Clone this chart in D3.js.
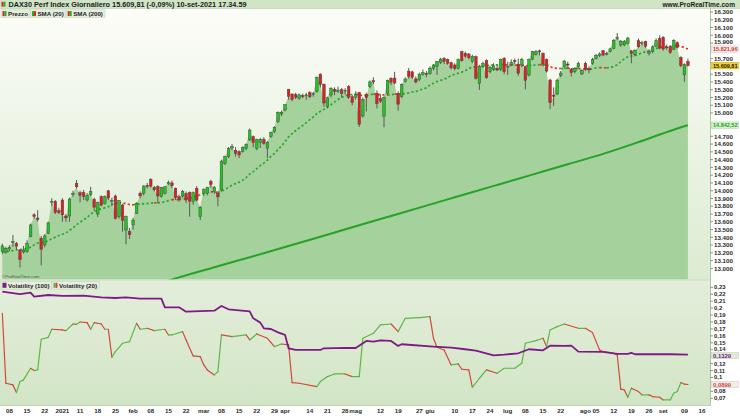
<!DOCTYPE html>
<html><head><meta charset="utf-8">
<script src="https://cdn.jsdelivr.net/npm/d3@7"></script>
<style>
body{margin:0;background:#fff}
svg{display:block}
text{font-family:"Liberation Sans",Arial,sans-serif}
</style>
</head><body>
<svg id="c" width="740" height="416"></svg>
<script>
// ---------- DATA ----------
const monthDays = [
 ["2020-12",[4,7,8,9,10,11,14,15,16,17,18,21,22,23,28,29,30]],
 ["2021-01",[4,5,6,7,8,11,12,13,14,15,18,19,20,21,22,25,26,27,28,29]],
 ["2021-02",[1,2,3,4,5,8,9,10,11,12,15,16,17,18,19,22,23,24,25,26]],
 ["2021-03",[1,2,3,4,5,8,9,10,11,12,15,16,17,18,19,22,23,24,25,26,29,30,31]],
 ["2021-04",[1,6,7,8,9,12,13,14,15,16,19,20,21,22,23,26,27,28,29,30]],
 ["2021-05",[3,4,5,6,7,10,11,12,13,14,17,18,19,20,21,24,25,26,27,28,31]],
 ["2021-06",[1,2,3,4,7,8,9,10,11,14,15,16,17,18,21,22,23,24,25,28,29,30]],
 ["2021-07",[1,2,5,6,7,8,9,12,13,14,15,16,19,20,21,22,23,26,27,28,29,30]],
 ["2021-08",[2,3,4,5,6,9,10,11,12,13,16,17,18,19,20,23,24,25,26,27,30,31]],
 ["2021-09",[1,2,3,6,7,8,9,10,13,14,15,16,17]]
];
const open = [13215,13210,13250,13330,13323,13237,13210,13215,13409,13690,13648,13390,13301,13451,13850,13859,13743,13880,13675,13675,
13950,14095,13975,13975,13880,13950,13889,13700,13923,13837,13999,13870,13932,13666,13816,13494,13473,13559,13709,13966,
13966,14070,14146,14044,14052,13923,13966,14090,14100,14031,13923,13932,13966,13975,13859,14031,13666,13966,13966,14117,
13988,13966,14009,14352,14438,14550,14520,14502,14502,14545,14653,14695,14545,14620,14660,14545,14700,14760,14889,14987,
15039,15305,15245,15235,15190,15225,15225,15262,15240,15274,15500,15369,15082,15232,15305,15280,15300,15280,15340,15210,
15200,15262,14962,15240,15340,15415,15253,15190,14960,15253,15446,15450,15253,15210,15403,15540,15530,15440,15430,15500,
15510,15510,15575,15597,15648,15705,15690,15648,15618,15575,15790,15768,15760,15660,15725,15380,15600,15674,15532,15562,
15575,15562,15704,15590,15620,15674,15630,15618,15596,15489,15691,15755,15800,15768,15690,15425,15230,15245,15480,15596,
15630,15560,15532,15596,15502,15640,15575,15640,15704,15740,15802,15760,15790,15832,15960,15875,15875,15897,15800,15750,
15930,15900,15918,15770,15790,15860,15960,15974,15850,15854,15820,15905,15716,15490,15660];
const high = [13320,13280,13300,13430,13340,13250,13290,13360,13575,13710,13750,13420,13440,13600,13903,13880,13780,13903,13700,13910,
14000,14138,14000,14010,13970,14050,13910,13860,13940,13940,14010,13910,13950,13880,13830,13680,13520,13650,13850,13990,
14070,14100,14160,14060,14070,14050,14060,14130,14130,14040,13950,14010,13990,13990,13990,14060,13800,14030,14050,14140,
14060,13990,14400,14450,14560,14600,14560,14520,14570,14610,14800,14710,14670,14680,14690,14640,14760,14830,15020,15030,
15110,15310,15250,15260,15250,15250,15260,15280,15270,15470,15510,15380,15210,15330,15330,15340,15320,15320,15360,15230,
15280,15270,15200,15260,15420,15460,15290,15240,15215,15430,15460,15530,15280,15380,15460,15580,15545,15470,15520,15560,
15540,15600,15630,15670,15710,15720,15700,15660,15640,15700,15800,15790,15770,15750,15740,15620,15660,15690,15610,15640,
15620,15700,15720,15660,15690,15700,15700,15710,15610,15700,15800,15810,15815,15780,15700,15440,15330,15440,15540,15680,
15660,15580,15590,15660,15560,15660,15600,15710,15760,15780,15810,15790,15840,15950,16030,15940,15940,15980,15810,15820,
15960,15930,15930,15820,15870,15960,16000,15990,15880,15870,15950,15920,15730,15640,15700];
const low = [13180,13190,13220,13280,13240,13010,13190,13200,13400,13640,13600,13040,13270,13440,13800,13700,13700,13600,13600,13600,
13920,14030,13850,13880,13860,13930,13740,13660,13800,13820,13880,13800,13630,13640,13473,13310,13380,13500,13700,13900,
13940,14030,14040,13990,13840,13910,13950,14070,14030,13880,13860,13910,13840,13666,13820,13860,13620,13930,13940,14040,
13960,13800,13990,14330,14420,14520,14440,14420,14490,14520,14640,14560,14520,14550,14590,14420,14680,14740,14870,14960,
15020,15170,15150,15180,15170,15190,15170,15190,15210,15260,15330,15080,15060,15200,15230,15260,15200,15240,15180,15100,
15170,14820,14940,15020,15320,15370,15060,15130,14816,15230,15360,15370,15030,15190,15390,15440,15440,15380,15410,15480,
15460,15490,15550,15490,15630,15630,15620,15560,15550,15560,15660,15710,15690,15640,15430,15296,15580,15440,15510,15540,
15540,15540,15500,15490,15600,15630,15480,15590,15305,15470,15680,15740,15740,15600,15520,15050,15090,15230,15460,15570,
15570,15470,15510,15580,15490,15540,15510,15620,15690,15720,15730,15740,15780,15820,15940,15850,15860,15880,15640,15730,
15840,15870,15840,15740,15770,15850,15820,15800,15810,15760,15810,15830,15590,15400,15600];
const close = [13290,13260,13270,13344,13285,13114,13235,13320,13559,13667,13630,13246,13418,13587,13860,13720,13718,13690,13651,13892,
13968,14050,13937,13925,13940,13989,13788,13848,13815,13922,13906,13873,13643,13871,13620,13666,13433,13622,13835,13933,
14060,14057,14059,14011,13932,14040,14050,14109,14064,13909,13887,13993,13880,13865,13976,13879,13786,14012,14039,14080,
14040,13920,14380,14437,14540,14569,14480,14461,14557,14596,14781,14621,14657,14662,14610,14621,14749,14817,15008,15008,
15107,15212,15176,15203,15234,15215,15234,15209,15255,15460,15368,15129,15196,15320,15280,15296,15249,15292,15200,15136,
15236,14856,15171,15197,15400,15400,15120,15150,15200,15417,15397,15386,15114,15370,15437,15470,15460,15400,15500,15520,
15500,15575,15618,15660,15693,15660,15640,15581,15571,15693,15674,15729,15711,15730,15448,15603,15636,15456,15589,15607,
15554,15691,15531,15603,15650,15661,15511,15692,15421,15688,15790,15790,15788,15630,15540,15133,15216,15423,15514,15669,
15618,15519,15571,15640,15544,15568,15555,15692,15744,15761,15745,15770,15826,15937,15977,15925,15922,15965,15765,15808,
15852,15906,15860,15793,15852,15930,15835,15824,15840,15781,15932,15843,15610,15623,15609.81];
// closes before the first visible bar (needed for the 20-bar average)
const priorCloses = [13096,13163,13216,13052,13076,13138,13133,13201,13086,13137,13126,13292,13289,13286,13335,13291,13382,13313,13252];
const sma200Bars = [45,50,60,70,80,90,100,110,120,130,140,150,160,170,180,190,194];
const sma200Vals = [12815,12885,13015,13143,13275,13408,13542,13675,13808,13941,14074,14207,14340,14474,14625,14785,14842.52];
const vol100Bars = [0,5,8,9,13,17,23,28,32,35,39,45,46,50,52,60,62,64,70,71,73,74,76,78,80,81,83,90,91,97,100,103,105,107,110,112,113,122,127,131,134,139,142,146,149,153,155,159,161,163,170,174,177,178,179,189,194];
const vol100Vals = [0.2237,0.2203,0.2223,0.2165,0.2189,0.2175,0.2179,0.2155,0.2146,0.2155,0.2136,0.2136,0.2011,0.2011,0.1949,0.1963,0.2031,0.1983,0.1954,0.1853,0.1791,0.1709,0.1699,0.1651,0.1613,0.1421,0.1397,0.1397,0.1421,0.1426,0.1425,0.1527,0.1517,0.1536,0.1527,0.1455,0.1479,0.1445,0.1431,0.1407,0.1387,0.1320,0.1330,0.1349,0.1407,0.1392,0.1459,0.1455,0.1459,0.1373,0.1368,0.1339,0.1339,0.1354,0.1335,0.1335,0.1329];
const vol20Bars = [0,1,3,4,5,6,8,9,10,11,13,14,17,18,20,21,22,24,25,26,28,29,30,31,32,34,36,38,39,41,43,46,47,48,51,52,54,56,57,58,60,61,62,65,69,70,72,75,77,79,81,82,84,89,90,92,94,97,99,101,102,105,107,110,112,114,118,121,122,123,125,127,129,130,132,133,135,137,140,142,145,147,148,151,153,154,155,157,159,163,165,167,169,170,173,174,175,176,177,178,180,181,183,184,186,187,189,190,191,192,193,194];
const vol20Vals = [0.1925,0.0917,0.0893,0.0783,0.0941,0.0965,0.1133,0.1099,0.1109,0.1551,0.1579,0.1695,0.1685,0.1675,0.1771,0.1767,0.1800,0.1791,0.1695,0.1791,0.1771,0.1695,0.1695,0.1291,0.1373,0.1493,0.1517,0.1781,0.1695,0.1709,0.1675,0.1695,0.1613,0.1613,0.1661,0.1541,0.1311,0.1301,0.1181,0.1109,0.1037,0.1085,0.1613,0.1589,0.1613,0.1541,0.1627,0.1565,0.1445,0.1483,0.1469,0.0927,0.0917,0.0869,0.0941,0.1013,0.1051,0.1051,0.1013,0.1013,0.1565,0.1637,0.1757,0.1771,0.1661,0.1853,0.1863,0.1877,0.1565,0.1435,0.1397,0.1181,0.1195,0.1119,0.1109,0.0859,0.0989,0.1109,0.1061,0.1133,0.1133,0.1205,0.1493,0.1531,0.1565,0.1445,0.1685,0.1733,0.1771,0.1709,0.1709,0.1647,0.1397,0.1373,0.1349,0.1325,0.0831,0.0821,0.0715,0.0845,0.0797,0.0749,0.0749,0.0725,0.0715,0.0677,0.0677,0.0773,0.0797,0.0927,0.0903,0.0899];
const lastPrice = 15609.81, lastSma20 = 15821.96, lastSma200 = 14842.52, lastVol100 = 0.1329, lastVol20 = 0.0899;
const priceTicks = d3.range(13000,16301,100);
const volTicks = d3.range(7,24).map(v=>v/100);
const xTicks = [["2020-12-08","08"],["2020-12-15","15"],["2020-12-22","22"],["2021-01-04","2021"],["2021-01-11","11"],["2021-01-18","18"],["2021-01-25","25"],["2021-02-01","feb"],["2021-02-08","08"],["2021-02-15","15"],["2021-02-22","22"],["2021-03-01","mar"],["2021-03-08","08"],["2021-03-15","15"],["2021-03-22","22"],["2021-03-29","29"],["2021-04-01","apr"],["2021-04-14","14"],["2021-04-21","21"],["2021-04-28","28"],["2021-05-03","mag"],["2021-05-12","12"],["2021-05-19","19"],["2021-05-27","27"],["2021-06-01","giu"],["2021-06-10","10"],["2021-06-17","17"],["2021-06-24","24"],["2021-07-01","lug"],["2021-07-08","08"],["2021-07-15","15"],["2021-07-22","22"],["2021-08-02","ago"],["2021-08-05","05"],["2021-08-12","12"],["2021-08-19","19"],["2021-08-26","26"],["2021-09-01","set"],["2021-09-09","09"],["2021-09-16","16"]];

// ---------- SETUP ----------
const svg = d3.select("#c");
const PR = 710.5, TOPB = 279.5, LT = 280.5, LB = 405.5;
const dates = monthDays.flatMap(([m,ds])=>ds.map(d=>m+"-"+String(d).padStart(2,"0")));
const x = d3.scaleLinear().domain([0,194]).range([2.33,2.33+194*3.534]);
const yP = d3.scaleLinear().domain([13000,16300]).range([268.4,12]);
const yV = d3.scaleLinear().domain([0.07,0.23]).range([398.3,287.3]);
const fmtP = v => d3.format(",.0f")(v).replace(/,/g,".");
const fmtV = v => String(+v.toFixed(2)).replace(".",",");

const defs = svg.append("defs");
const g1 = defs.append("linearGradient").attr("id","gTop").attr("x1",0).attr("y1",0).attr("x2",0).attr("y2",1);
g1.append("stop").attr("offset",0).attr("stop-color","#fdfdf9");
g1.append("stop").attr("offset",1).attr("stop-color","#dcebd2");
const g2 = defs.append("linearGradient").attr("id","gBot").attr("x1",0).attr("y1",0).attr("x2",0).attr("y2",1);
g2.append("stop").attr("offset",0).attr("stop-color","#e4eedb");
g2.append("stop").attr("offset",1).attr("stop-color","#d2e5c6");
defs.append("clipPath").attr("id","cTop").append("rect").attr("x",0).attr("y",0).attr("width",PR).attr("height",TOPB);
defs.append("clipPath").attr("id","cBot").append("rect").attr("x",0).attr("y",LT).attr("width",PR).attr("height",LB-LT);

svg.append("rect").attr("width",740).attr("height",416).attr("fill","#ffffff");
svg.append("rect").attr("x",0).attr("y",0).attr("width",PR).attr("height",TOPB).attr("fill","url(#gTop)");
svg.append("rect").attr("x",0).attr("y",LT).attr("width",PR).attr("height",LB-LT).attr("fill","url(#gBot)");

// ---------- TOP PANEL ----------
const topG = svg.append("g").attr("clip-path","url(#cTop)");
const bars = close.map((c,i)=>({i,o:open[i],h:high[i],l:low[i],c}));
topG.append("path").datum(bars)
  .attr("d", d3.area().x(d=>x(d.i)).y0(TOPB).y1(d=>yP(d.c)))
  .attr("fill","#a5d19c");

// SMA 200
const s200 = sma200Bars.map((b,k)=>({i:b,v:sma200Vals[k]}));
topG.append("path").datum(s200)
  .attr("d", d3.line().x(d=>x(d.i)).y(d=>yP(d.v)).curve(d3.curveMonotoneX))
  .attr("fill","none").attr("stroke","#26a326").attr("stroke-width",2);

// SMA 20 (average of the last 20 closes)
const allC = priorCloses.concat(close);
const sma20 = close.map((c,i)=>({i, v:d3.mean(allC.slice(i, i+20))}));
let runs = [], cur = null;
for (let k=1;k<sma20.length;k++){
  const col = sma20[k].v >= sma20[k-1].v ? "#2aa52a" : "#e8302a";
  if (!cur || cur.col!==col){ cur={col,pts:[sma20[k-1]]}; runs.push(cur); }
  cur.pts.push(sma20[k]);
}
runs.forEach(r=>{
  topG.append("path").datum(r.pts)
    .attr("d", d3.line().x(d=>x(d.i)).y(d=>yP(d.v)))
    .attr("fill","none").attr("stroke",r.col).attr("stroke-width",1.7)
    .attr("stroke-dasharray","2.2,2.3");
});

// candles
topG.selectAll("line.w").data(bars).join("line").attr("class","w")
  .attr("x1",d=>x(d.i)).attr("x2",d=>x(d.i))
  .attr("y1",d=>yP(d.h)).attr("y2",d=>yP(d.l))
  .attr("stroke","#5a5a5a").attr("stroke-width",1);
topG.selectAll("rect.b").data(bars).join("rect").attr("class","b")
  .attr("x",d=>x(d.i)-1.3).attr("width",2.6)
  .attr("y",d=>yP(Math.max(d.o,d.c)))
  .attr("height",d=>Math.max(1,Math.abs(yP(d.o)-yP(d.c))))
  .attr("fill",d=>d.c>=d.o?"#1fc81f":"#e01e1e")
  .attr("stroke","#404040").attr("stroke-width",0.45);

svg.append("text").attr("x",2).attr("y",278).attr("font-size",4.3).attr("fill","#555").text("©ProRealTime.com");

// ---------- BOTTOM PANEL ----------
const botG = svg.append("g").attr("clip-path","url(#cBot)");
const v20 = vol20Bars.map((b,k)=>({i:b,v:vol20Vals[k]}));
for (let k=1;k<v20.length;k++){
  const a=v20[k-1], b=v20[k];
  botG.append("line").attr("x1",x(a.i)).attr("y1",yV(a.v)).attr("x2",x(b.i)).attr("y2",yV(b.v))
    .attr("stroke", b.v>=a.v ? "#5cb844" : "#d2483a").attr("stroke-width",1.2).attr("stroke-linecap","round");
}
const v100 = vol100Bars.map((b,k)=>({i:b,v:vol100Vals[k]}));
botG.append("path").datum(v100)
  .attr("d", d3.line().x(d=>x(d.i)).y(d=>yV(d.v)))
  .attr("fill","none").attr("stroke","#7d1a86").attr("stroke-width",1.8).attr("stroke-linejoin","round");

// separators / borders
svg.append("line").attr("x1",0).attr("x2",PR).attr("y1",280).attr("y2",280).attr("stroke","#b9d4af").attr("stroke-width",1.2);
svg.append("line").attr("x1",PR).attr("x2",PR).attr("y1",0).attr("y2",LB).attr("stroke","#a9c9a1").attr("stroke-width",1);
svg.append("line").attr("x1",0).attr("x2",PR).attr("y1",LB).attr("y2",LB).attr("stroke","#b9d4af").attr("stroke-width",1);

// ---------- HEADER ----------
svg.append("rect").attr("x",0).attr("y",0).attr("width",740).attr("height",8.5).attr("fill","#cfe5c6");
svg.append("line").attr("x1",0).attr("x2",740).attr("y1",8.5).attr("y2",8.5).attr("stroke","#b4d0aa").attr("stroke-width",0.6);
svg.append("rect").attr("x",1.5).attr("y",1.8).attr("width",2).attr("height",4.8).attr("fill","#e02020");
svg.append("rect").attr("x",3.5).attr("y",1.8).attr("width",2).attr("height",4.8).attr("fill","#20b020");
svg.append("text").attr("x",8.5).attr("y",6.8).attr("font-size",6.8).attr("font-weight","bold").attr("fill","#1c1c1c")
  .attr("textLength",238).attr("lengthAdjust","spacingAndGlyphs")
  .text("DAX30 Perf Index Giornaliero 15.609,81 (-0,09%) 10-set-2021 17.34.59");
svg.append("text").attr("x",735).attr("y",6.9).attr("font-size",6.6).attr("font-weight","bold").attr("fill","#1c1c1c")
  .attr("text-anchor","end").text("www.ProRealTime.com");

function legendItem(x0, y0, colors, label){
  const gI = svg.append("g");
  const r = gI.append("rect").attr("x",x0).attr("y",y0).attr("height",7.6)
    .attr("fill","#e6eee0").attr("stroke","#c3d6ba").attr("stroke-width",0.6);
  colors.forEach((c,k)=>gI.append("rect").attr("x",x0+1.5+k*2).attr("y",y0+1.3).attr("width",colors.length>1?2:4).attr("height",5)
    .attr("fill",c));
  const t = gI.append("text").attr("x",x0+7).attr("y",y0+6).attr("font-size",6.2).attr("font-weight","bold").attr("fill","#222").text(label);
  const w = 7 + t.node().getComputedTextLength() + 2;
  r.attr("width", w);
  return x0 + w + 0.5;
}
let lx = legendItem(1,9.8,["#e02020","#20b020"],"Prezzo");
lx = legendItem(lx,9.8,["#20b020","#e02020"],"SMA (20)");
legendItem(lx,9.8,["#e02020","#20b020"],"SMA (200)");
lx = legendItem(1,281.5,["#7d1a86"],"Volatility (100)");
legendItem(lx,281.5,["#5cb844","#d2483a"],"Volatility (20)");

// ---------- RIGHT AXES ----------
const FS = 6.2, FSV = 5.9;
function nudge(yt, boxes, amt){
  for (const yb of boxes){
    const dy = yt - yb;
    if (Math.abs(dy) < 6.5) return yt + (dy < 0 ? -amt : amt);
  }
  return yt;
}
const hidP = [lastPrice,lastSma20,lastSma200];
priceTicks.filter(t=>hidP.every(h=>Math.abs(yP(t)-yP(h))>5.5)).forEach(t=>{
  const yl = nudge(yP(t), hidP.map(yP), 1.2);
  svg.append("line").attr("x1",PR).attr("x2",PR+2.5).attr("y1",yP(t)).attr("y2",yP(t)).attr("stroke","#444").attr("stroke-width",0.6);
  svg.append("text").attr("x",714).attr("y",yl+2.2).attr("font-size",FS).attr("font-weight","bold").attr("fill","#2a2a2a").text(fmtP(t));
});
const hidV = [lastVol100,lastVol20];
volTicks.filter(t=>t<=0.23 && hidV.every(h=>Math.abs(yV(t)-yV(h))>3.6)).forEach(t=>{
  const yl = nudge(yV(t), hidV.map(yV), 0.3);
  svg.append("line").attr("x1",PR).attr("x2",PR+2.5).attr("y1",yV(t)).attr("y2",yV(t)).attr("stroke","#444").attr("stroke-width",0.6);
  svg.append("text").attr("x",714).attr("y",yl+2.0).attr("font-size",FSV).attr("font-weight","bold").attr("fill","#2a2a2a").text(fmtV(t));
});
function valBox(yc, txt, bg, fg, stroke, h, fs){
  svg.append("rect").attr("x",711.5).attr("y",yc-h/2).attr("width",27).attr("height",h).attr("fill",bg).attr("stroke",stroke).attr("stroke-width",0.5);
  svg.append("text").attr("x",713).attr("y",yc+fs*0.34).attr("font-size",fs).attr("font-weight","bold").attr("fill",fg)
    .attr("textLength", txt.length>6 ? 24.5 : null).attr("lengthAdjust","spacingAndGlyphs").text(txt);
}
valBox(yP(lastSma20),"15.821,96","#f3eeec","#e03030","#e2c4c0",6.6,FS);
valBox(yP(lastPrice),"15.609,81","#f2d12a","#1a1a1a","#c8a818",6.6,FS);
valBox(yP(lastSma200),"14.842,52","#d6efcd","#22a022","#a8d29c",6.6,FS);
valBox(yV(lastVol100)+1,"0,1329","#dcead3","#7d1a86","#b8d0ae",6,FSV);
valBox(yV(lastVol20),"0,0899","#f1ece8","#d2483a","#dcc4bc",6.4,FSV);

// ---------- X AXIS ----------
xTicks.forEach(([d,lab])=>{
  const i = dates.indexOf(d);
  svg.append("text").attr("x",x(i)).attr("y",413).attr("text-anchor","middle").attr("font-size",6.2)
    .attr("font-weight","bold").attr("fill","#2a2a2a").text(lab);
});
</script>
</body></html>
